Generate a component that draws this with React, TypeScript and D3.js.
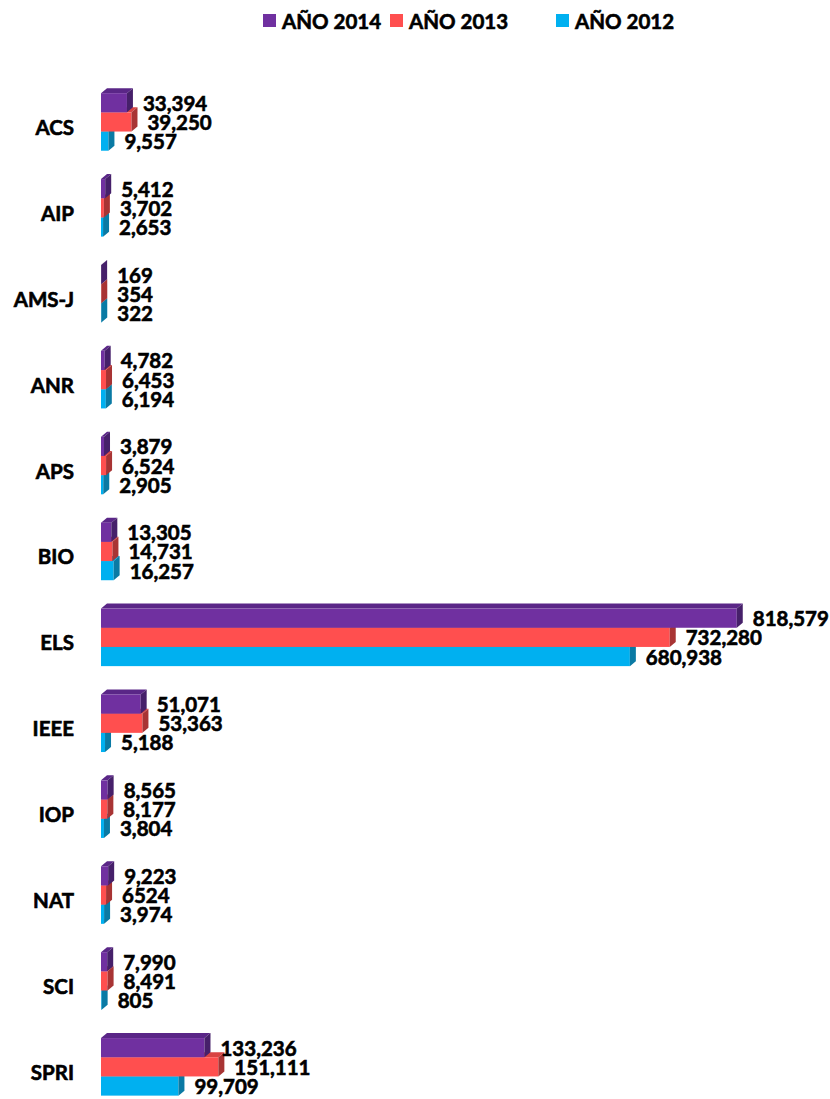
import React from "react";
import * as d3 from "d3";

const categories = ["ACS", "AIP", "AMS-J", "ANR", "APS", "BIO", "ELS", "IEEE", "IOP", "NAT", "SCI", "SPRI"];
const seriesNames = ["AÑO 2014", "AÑO 2013", "AÑO 2012"];
const values2014 = [33394, 5412, 169, 4782, 3879, 13305, 818579, 51071, 8565, 9223, 7990, 133236];
const values2013 = [39250, 3702, 354, 6453, 6524, 14731, 732280, 53363, 8177, 6524, 8491, 151111];
const values2012 = [9557, 2653, 322, 6194, 2905, 16257, 680938, 5188, 3804, 3974, 805, 99709];
// labels printed without thousands separator in the original
const plainLabels = [["NAT", "AÑO 2013"]];

const frontColors = ["#7030A0", "#FF4F4F", "#00B0F0"];
const topColors = ["#5A2687", "#D84343", "#0097CE"];
const sideColors = ["#46206A", "#A83434", "#0A7AA4"];

const W = 830;
const H = 1099;
const DX = 6;
const DY = 5;
const FONT = "Lato, 'Open Sans', sans-serif";
const WEIGHT = "bold";
const textStyle = { stroke: "#000", strokeWidth: 0.6, paintOrder: "stroke" } as React.CSSProperties;

export default function App() {
  const seriesValues = [values2014, values2013, values2012];
  const x = d3.scaleLinear().domain([0, 900000]).range([101, 800]);
  const y = d3
    .scaleBand<string>()
    .domain(categories)
    .range([79, 79 + 85.9 * categories.length])
    .paddingInner(0.33)
    .paddingOuter(0.165);
  const inner = d3.scaleBand<string>().domain(seriesNames).range([0, y.bandwidth()]);
  const fmt = d3.format(",");

  const legendX = [263, 390, 556];

  return (
    <svg
      width={W}
      height={H}
      style={{ position: "absolute", left: 0, top: 0, background: "#fff" }}
      fontFamily={FONT}
    >
      {/* legend */}
      {seriesNames.map((s, i) => (
        <g key={s}>
          <rect x={legendX[i]} y={14} width={13} height={13} fill={frontColors[i]} />
          <text
            x={legendX[i] + 19}
            y={20.5}
            dominantBaseline="central"
            fontSize={20.5}
            fontWeight={WEIGHT}
            fill="#000"
            style={textStyle}
          >
            {s}
          </text>
        </g>
      ))}

      {categories.map((c, ci) => {
        const y0 = y(c)!;
        const center = y0 + y.bandwidth() / 2;
        const order = [2, 1, 0];
        return (
          <g key={c}>
            <text
              x={74}
              y={center + 5}
              textAnchor="end"
              dominantBaseline="central"
              fontSize={20.5}
              fontWeight={WEIGHT}
              fill="#000"
              style={textStyle}
            >
              {c}
            </text>
            {order.map((si) => {
              const v = seriesValues[si][ci];
              const by = y0 + inner(seriesNames[si])!;
              const h = inner.bandwidth();
              const xs = x(0);
              const xe = x(v);
              const top = `${xs},${by} ${xe},${by} ${xe + DX},${by - DY} ${xs + DX},${by - DY}`;
              const side = `${xe},${by} ${xe + DX},${by - DY} ${xe + DX},${by + h - DY} ${xe},${by + h}`;
              return (
                <g key={si}>
                  <polygon points={top} fill={topColors[si]} />
                  <rect x={xs} y={by} width={Math.max(0, xe - xs)} height={h} fill={frontColors[si]} />
                  <polygon points={side} fill={sideColors[si]} />
                </g>
              );
            })}
            {[0, 1, 2].map((si) => {
              const v = seriesValues[si][ci];
              const by = y0 + inner(seriesNames[si])!;
              const h = inner.bandwidth();
              const plain = plainLabels.some((p) => p[0] === c && p[1] === seriesNames[si]);
              return (
                <text
                  key={"l" + si}
                  x={x(v) + DX + 10}
                  y={by + h / 2}
                  dominantBaseline="central"
                  fontSize={20.5}
                  fontWeight={WEIGHT}
                  fill="#000"
                  style={textStyle}
                >
                  {plain ? String(v) : fmt(v)}
                </text>
              );
            })}
          </g>
        );
      })}
    </svg>
  );
}
